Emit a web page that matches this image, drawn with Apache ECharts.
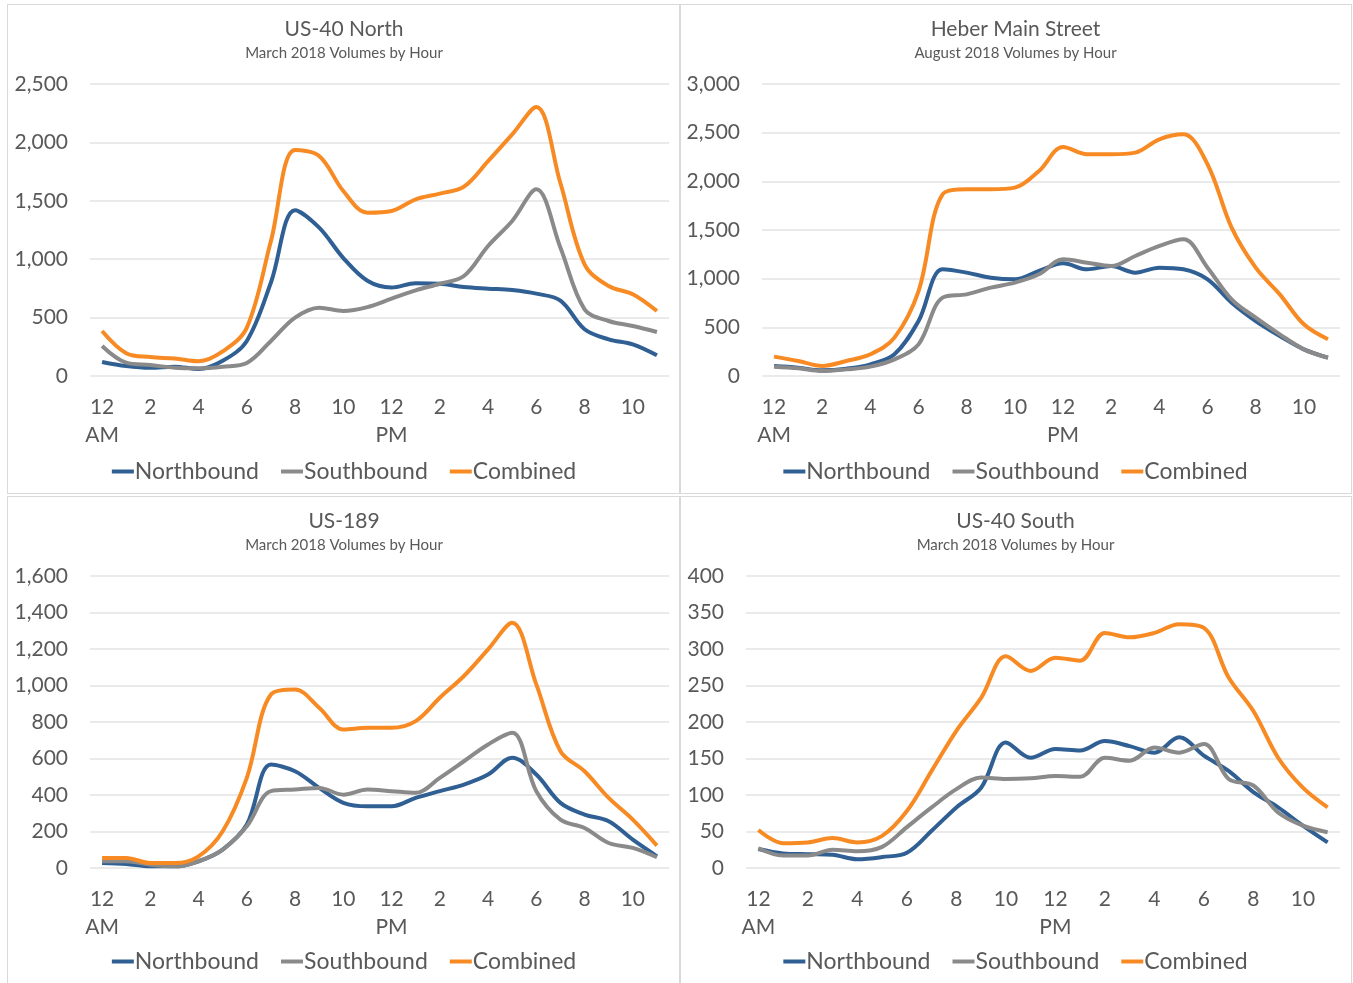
<!DOCTYPE html>
<html>
<head>
<meta charset="utf-8">
<script src="https://cdn.jsdelivr.net/npm/echarts@6/dist/echarts.min.js"></script>
<style>
    html, body { margin: 0; padding: 0; background: #fff; }
    .panel { position: absolute; border: 1.5px solid #d9d9d9; box-sizing: border-box; }
    #p1 { left: 7px; top: 4px; width: 674px; height: 490px; }
    #p2 { left: 679px; top: 4px; width: 673px; height: 490px; }
    #p3 { left: 7px; top: 496px; width: 674px; height: 488px; }
    #p4 { left: 679px; top: 496px; width: 673px; height: 488px; }
</style>
</head>
<body>
<div class="panel" id="p1"></div>
<div class="panel" id="p2"></div>
<div class="panel" id="p3"></div>
<div class="panel" id="p4"></div>
<script>
// hours 0..23, label only on even hours
var hours = ['12\nAM', '1', '2', '3', '4', '5', '6', '7', '8', '9', '10', '11',
    '12\nPM', '1', '2', '3', '4', '5', '6', '7', '8', '9', '10', '11']

// US-40 North, March 2018
var us40nNorth = [120, 85, 70, 80, 60, 130, 300, 800, 1420, 1270, 1010, 815, 758, 795, 790, 762, 748, 736, 705, 645, 400, 314, 271, 177]
var us40nSouth = [257, 114, 94, 71, 66, 80, 112, 300, 500, 585, 557, 590, 662, 733, 790, 856, 1113, 1327, 1598, 1099, 571, 471, 428, 377]
var us40nComb = [385, 195, 162, 150, 126, 210, 414, 1156, 1935, 1884, 1584, 1398, 1413, 1513, 1561, 1621, 1840, 2069, 2303, 1650, 956, 770, 700, 556]

// Heber Main Street, August 2018
var heberNorth = [103, 86, 58, 75, 120, 223, 565, 1096, 1062, 1010, 993, 1079, 1158, 1096, 1130, 1062, 1113, 1096, 993, 753, 565, 411, 274, 188]
var heberSouth = [96, 79, 51, 68, 96, 171, 325, 805, 839, 908, 959, 1045, 1199, 1164, 1130, 1233, 1336, 1404, 1113, 788, 599, 428, 274, 188]
var heberComb = [199, 154, 103, 154, 223, 394, 873, 1867, 1918, 1918, 1935, 2106, 2353, 2278, 2278, 2295, 2432, 2483, 2175, 1524, 1113, 839, 531, 377]

// US-189, March 2018
var us189North = [27, 22, 9, 9, 37, 101, 238, 567, 530, 439, 357, 338, 338, 384, 421, 457, 512, 604, 512, 357, 293, 256, 155, 64]
var us189South = [37, 37, 18, 9, 37, 101, 229, 421, 430, 439, 402, 430, 421, 412, 494, 585, 677, 741, 421, 265, 219, 137, 110, 59]
var us189Comb = [55, 55, 27, 27, 64, 201, 494, 951, 978, 878, 759, 768, 768, 805, 933, 1052, 1198, 1344, 1006, 640, 530, 384, 265, 123]

// US-40 South, March 2018
var us40sNorth = [26, 20, 19, 18, 12, 15, 21, 51, 83, 110, 172, 151, 163, 161, 174, 167, 158, 179, 154, 133, 104, 83, 58, 35]
var us40sSouth = [27, 17, 17, 25, 23, 29, 56, 83, 108, 124, 122, 123, 126, 125, 151, 147, 165, 158, 170, 122, 113, 76, 58, 49]
var us40sComb = [52, 34, 35, 41, 35, 44, 78, 133, 188, 233, 290, 270, 288, 284, 322, 316, 322, 334, 329, 261, 215, 151, 110, 83]

var colors = ['#2f5f93', '#8a8a8a', '#f88a24']
var font = 'Lato, "Open Sans", sans-serif'

function makeChart(id, title, sub, north, south, comb, max, step, gridLeft) {
    var chart = echarts.init(document.getElementById(id))
    function line(name, data, color) {
        return {
            name: name,
            type: 'line',
            data: data,
            smooth: 0.35,
            symbol: 'none',
            lineStyle: { width: 4, color: color },
            itemStyle: { color: color }
        }
    }
    chart.setOption({
        animation: false,
        title: {
            text: title,
            subtext: sub,
            left: 'center',
            top: 9,
            itemGap: 6,
            textStyle: { fontFamily: font, fontSize: 21, fontWeight: 'normal', color: '#595959' },
            subtextStyle: { fontFamily: font, fontSize: 15, color: '#595959' }
        },
        legend: {
            bottom: 5,
            left: 'center',
            icon: 'rect',
            itemWidth: 22,
            itemHeight: 4,
            itemGap: 22,
            data: ['Northbound', 'Southbound', 'Combined'],
            textStyle: { fontFamily: font, fontSize: 23, color: '#595959', padding: [0, 0, 0, -4] }
        },
        grid: { left: gridLeft, right: 11, top: 79, height: 292 },
        xAxis: {
            type: 'category',
            data: hours,
            boundaryGap: true,
            axisLine: { show: false },
            axisTick: { show: false },
            axisLabel: {
                interval: 1,
                margin: 17,
                fontFamily: font,
                fontSize: 21,
                color: '#595959',
                lineHeight: 28,
                align: 'center'
            }
        },
        yAxis: {
            type: 'value',
            min: 0,
            max: max,
            interval: step,
            axisLabel: {
                margin: 22,
                fontFamily: font,
                fontSize: 21,
                color: '#595959',
                formatter: function (v) { return v.toLocaleString('en-US') }
            },
            splitLine: { lineStyle: { color: '#e3e3e3', width: 1.5 } }
        },
        series: [
            line('Northbound', north, colors[0]),
            line('Southbound', south, colors[1]),
            line('Combined', comb, colors[2])
        ]
    })
    return chart
}

makeChart('p1', 'US-40 North', 'March 2018 Volumes by Hour', us40nNorth, us40nSouth, us40nComb, 2500, 500, 82)
makeChart('p2', 'Heber Main Street', 'August 2018 Volumes by Hour', heberNorth, heberSouth, heberComb, 3000, 500, 82)
makeChart('p3', 'US-189', 'March 2018 Volumes by Hour', us189North, us189South, us189Comb, 1600, 200, 82)
makeChart('p4', 'US-40 South', 'March 2018 Volumes by Hour', us40sNorth, us40sSouth, us40sComb, 400, 50, 66)
</script>
</body>
</html>
